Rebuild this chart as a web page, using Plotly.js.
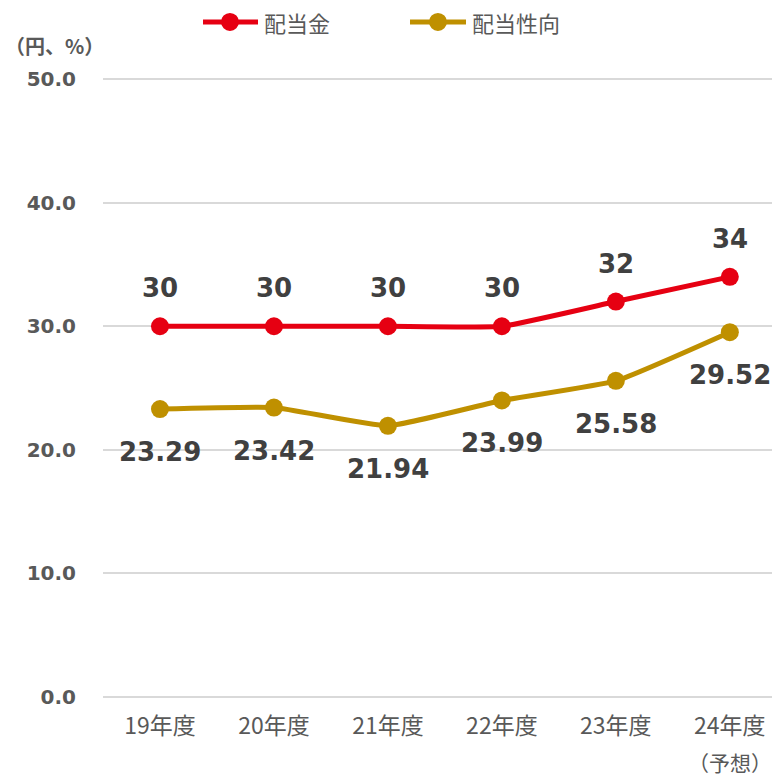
<!DOCTYPE html>
<html>
<head>
<meta charset="utf-8">
<script src="https://cdn.plot.ly/plotly-3.0.1.min.js"></script>
<style>
  html, body { margin: 0; padding: 0; background: #fff; }
  #chart { width: 772px; height: 777px; }
</style>
</head>
<body>
<div id="chart"></div>
<script>
const categories = ['19年度', '20年度', '21年度', '22年度', '23年度', '24年度'];
const dividend = [30, 30, 30, 30, 32, 34];
const payoutRatio = [23.29, 23.42, 21.94, 23.99, 25.58, 29.52];
const dividendLabels = ['30', '30', '30', '30', '32', '34'];
const payoutLabels = ['23.29', '23.42', '21.94', '23.99', '25.58', '29.52'];
const seriesNames = ['配当金', '配当性向'];
const yTicks = [0, 10, 20, 30, 40, 50];

const RED = '#E60012';
const GOLD = '#BF9000';
const NUM_FONT = '"DejaVu Sans", Verdana, sans-serif';
const JP_FONT = '"Noto Sans CJK JP", "Noto Sans", sans-serif';

const traces = [
    {
        x: categories,
        y: dividend,
        type: 'scatter',
        mode: 'lines+markers',
        name: seriesNames[0],
        line: { color: RED, width: 5, shape: 'spline', smoothing: 0.4 },
        marker: { color: RED, size: 18 },
        hoverinfo: 'skip'
    },
    {
        x: categories,
        y: payoutRatio,
        type: 'scatter',
        mode: 'lines+markers',
        name: seriesNames[1],
        line: { color: GOLD, width: 5, shape: 'spline', smoothing: 0.4 },
        marker: { color: GOLD, size: 18 },
        hoverinfo: 'skip'
    }
];

const annotations = [];
categories.forEach((cat, i) => {
    annotations.push({
        x: cat, y: dividend[i], xref: 'x', yref: 'y',
        text: dividendLabels[i], showarrow: false, yshift: 38,
        font: { family: NUM_FONT, size: 26, color: '#404040', weight: 'bold' }
    });
    annotations.push({
        x: cat, y: payoutRatio[i], xref: 'x', yref: 'y',
        text: payoutLabels[i], showarrow: false, yshift: -43,
        font: { family: NUM_FONT, size: 26, color: '#404040', weight: 'bold' }
    });
});

// unit label above the y axis
annotations.push({
    x: -0.072, y: 1.044, xref: 'paper', yref: 'paper',
    xanchor: 'center', yanchor: 'middle',
    text: '（円、%）', showarrow: false,
    font: { family: JP_FONT, size: 20, color: '#595959', weight: 'bold' }
});
// forecast note under the last category
annotations.push({
    x: categories[5], y: -0.093, xref: 'x', yref: 'paper',
    xanchor: 'center', yanchor: 'middle',
    text: '（予想）', showarrow: false,
    font: { family: JP_FONT, size: 21, color: '#595959' }
});

// legend drawn by hand so the line samples are as long as in the original
const shapes = [];
const legendY = 1.081;
const legendItems = [
    { color: RED, x0: 0.1495, x1: 0.2317, cx: 0.1898, tx: 0.2377 },
    { color: GOLD, x0: 0.4589, x1: 0.5426, cx: 0.5007, tx: 0.5486 }
];
legendItems.forEach((item, i) => {
    shapes.push({
        type: 'line', xref: 'paper', yref: 'paper',
        x0: item.x0, x1: item.x1, y0: legendY, y1: legendY,
        line: { color: item.color, width: 5 }
    });
    shapes.push({
        type: 'circle', xref: 'paper', yref: 'paper',
        xsizemode: 'pixel', ysizemode: 'pixel',
        xanchor: item.cx, yanchor: legendY,
        x0: -9, x1: 9, y0: -9, y1: 9,
        fillcolor: item.color, line: { width: 0 }
    });
    annotations.push({
        x: item.tx, y: legendY, xref: 'paper', yref: 'paper',
        xanchor: 'left', yanchor: 'middle',
        text: seriesNames[i], showarrow: false,
        font: { family: JP_FONT, size: 22, color: '#595959' }
    });
});

const layout = {
    width: 772,
    height: 777,
    margin: { l: 103, r: 0, t: 73, b: 74 },
    paper_bgcolor: 'white',
    plot_bgcolor: 'white',
    showlegend: false,
    xaxis: {
        type: 'category',
        range: [-0.5, 5.37],
        showgrid: false,
        zeroline: false,
        showline: false,
        ticks: '',
        ticklabelstandoff: 7,
        tickfont: { family: JP_FONT, size: 23, color: '#595959' },
        fixedrange: true
    },
    yaxis: {
        range: [-0.5, 50.5],
        tickvals: yTicks,
        ticktext: yTicks.map(v => v.toFixed(1)),
        showgrid: true,
        gridcolor: '#D9D9D9',
        gridwidth: 2,
        zeroline: false,
        showline: false,
        ticks: '',
        ticklabelstandoff: 26,
        tickfont: { family: NUM_FONT, size: 20, color: '#595959', weight: 'bold' },
        fixedrange: true
    },
    shapes: shapes,
    annotations: annotations
};

Plotly.newPlot('chart', traces, layout, { displayModeBar: false, staticPlot: true });
</script>
</body>
</html>
